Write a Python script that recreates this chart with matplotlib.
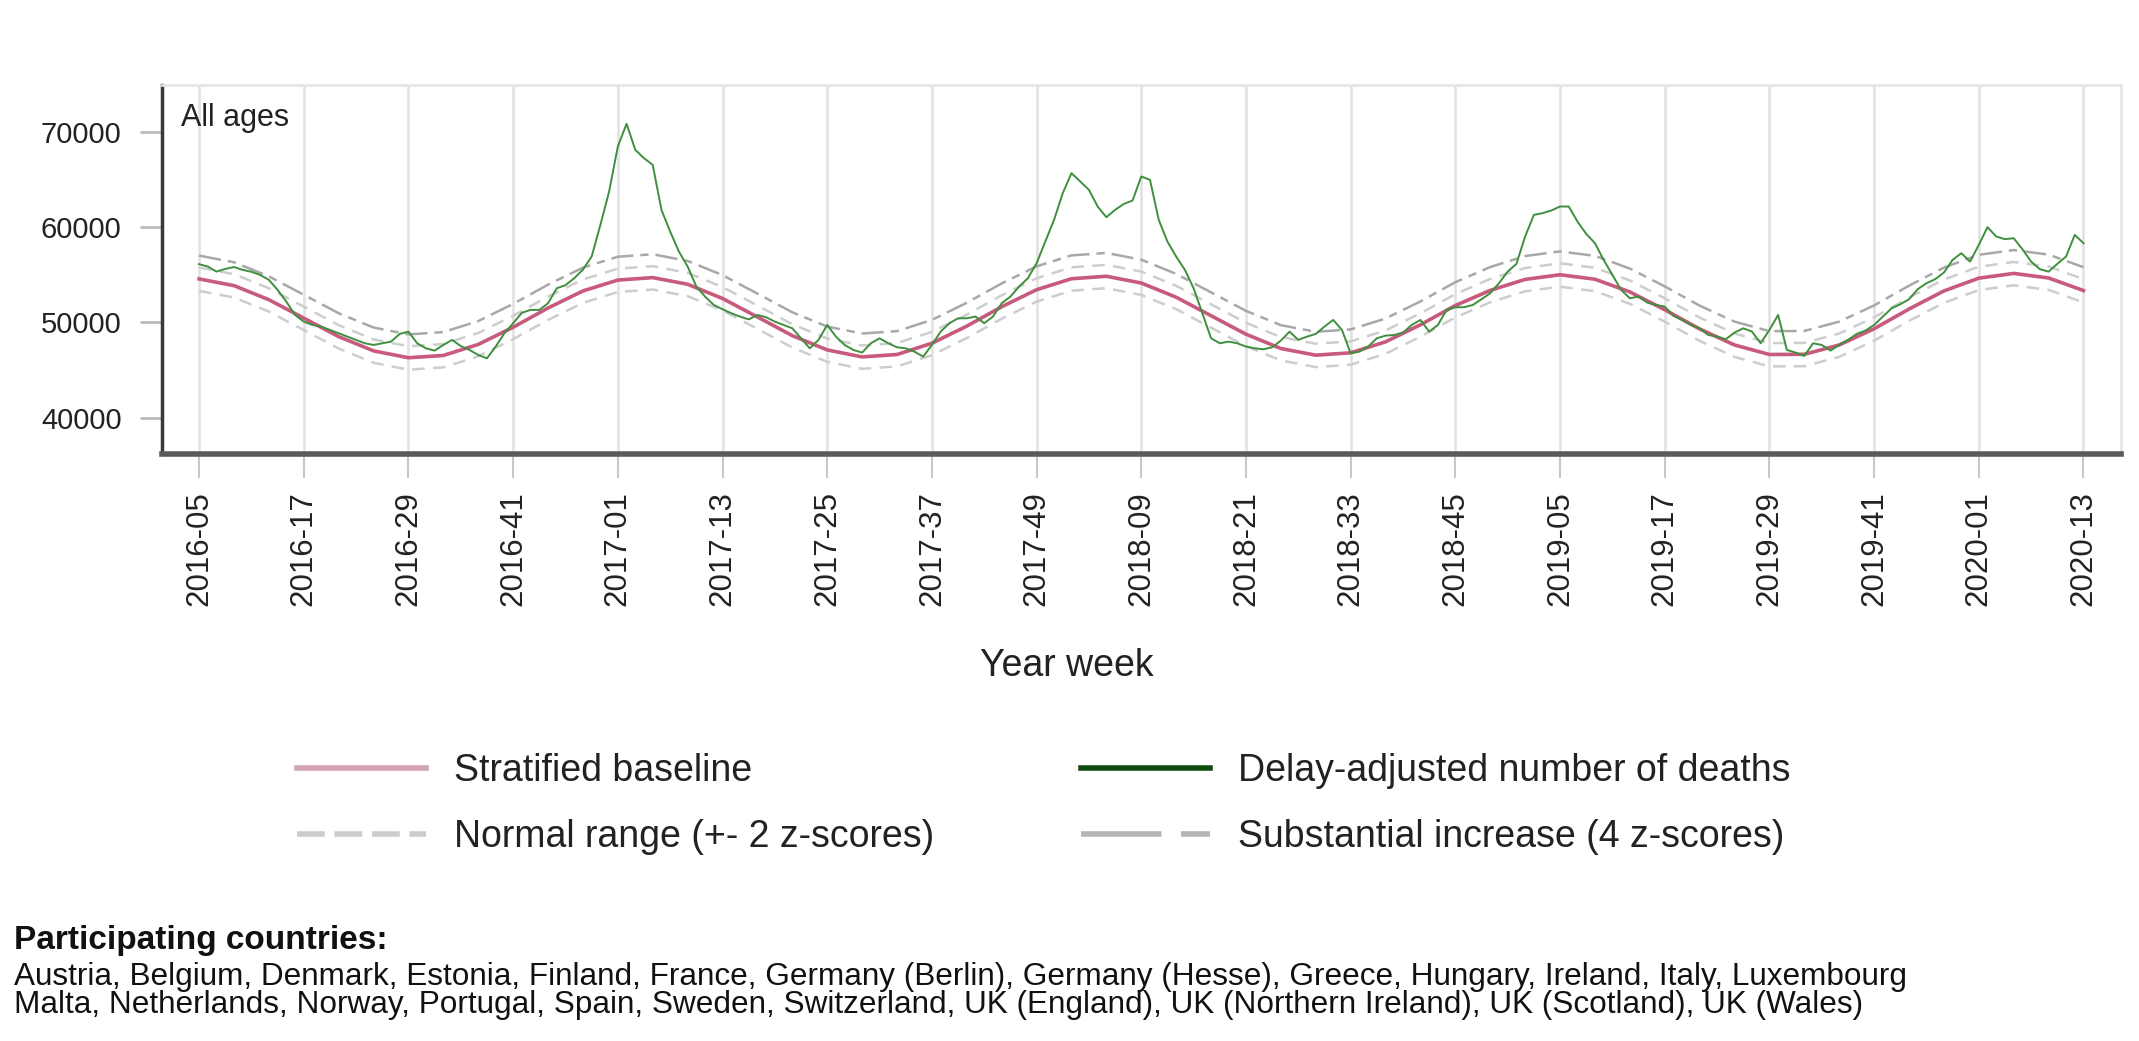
import numpy as np
import matplotlib
matplotlib.use("Agg")
import matplotlib.pyplot as plt
from matplotlib.lines import Line2D

plt.rcParams['font.family'] = ['Liberation Sans', 'DejaVu Sans']
plt.rcParams['lines.scale_dashes'] = False

# ---- data ----
# x tick labels, one every 12 weeks starting 2016-05
week_labels = ["2016-05", "2016-17", "2016-29", "2016-41", "2017-01", "2017-13",
               "2017-25", "2017-37", "2017-49", "2018-09", "2018-21", "2018-33",
               "2018-45", "2019-05", "2019-17", "2019-29", "2019-41", "2020-01",
               "2020-13"]

# weekly delay-adjusted deaths, 2016-05 .. 2020-13
deaths = [
    56100, 55850, 55320, 55600, 55800, 55500, 55300, 54970, 54450, 53400,
    52170, 50770, 50070, 49720, 49550, 49200, 48850, 48500, 48150, 47800,
    47620, 47800, 47970, 48780, 49020, 47800, 47270, 47030, 47620, 48150,
    47500, 47100, 46570, 46220, 47450, 48850, 49900, 51000, 51300, 51300,
    52000, 53570, 53900, 54620, 55530, 56900, 60220, 63720, 68450, 70830,
    68100, 67220, 66520, 61800, 59520, 57420, 55850, 53750, 52700, 51820,
    51370, 50950, 50600, 50300, 50770, 50530, 50070, 49720, 49370, 48320,
    47270, 48150, 49720, 48500, 47620, 47100, 46820, 47800, 48320, 47800,
    47380, 47270, 46920, 46400, 47620, 49020, 49900, 50420, 50420, 50600,
    49900, 50600, 52000, 52700, 53750, 54620, 56200, 58470, 60750, 63550,
    65650, 64770, 63900, 62150, 61030, 61800, 62420, 62780, 65300, 64950,
    60750, 58470, 56900, 55500, 53570, 50950, 48320, 47800, 47970, 47800,
    47450, 47270, 47170, 47380, 48080, 49020, 48150, 48500, 48780, 49550,
    50250, 49200, 46750, 46920, 47450, 48320, 48600, 48670, 48920, 49720,
    50250, 49020, 49720, 51300, 51580, 51580, 51820, 52420, 53050, 54100,
    55320, 56130, 59000, 61270, 61450, 61730, 62150, 62150, 60570, 59280,
    58300, 56550, 54970, 53400, 52520, 52700, 52070, 51820, 51650, 50670,
    50250, 49720, 49370, 48670, 48500, 48220, 48920, 49370, 49020, 47800,
    49200, 50770, 47100, 46820, 46470, 47800, 47620, 47030, 47620, 48150,
    48780, 49130, 49720, 50600, 51470, 51890, 52420, 53470, 54100, 54520,
    55220, 56550, 57250, 56370, 58120, 59980, 59000, 58720, 58820, 57670,
    56370, 55570, 55320, 56130, 56900, 59170, 58300,
]

# baseline and bands, sampled every 4 weeks
baseline = [
    54550, 53850, 52370, 50440, 48500, 47000, 46280, 46520, 47680, 49480, 51500, 53290, 54430,
    54690, 53990, 52500, 50560, 48600, 47100, 46370, 46620, 47800, 49600, 51630, 53420, 54570,
    54830, 54120, 52630, 50690, 48750, 47250, 46550, 46800, 47950, 49740, 51760, 53350, 54500,
    54990, 54520, 53190, 51320, 49300, 47620, 46620, 46640, 47620, 49320, 51390, 53290, 54630,
    55130, 54650, 53330,
]
normal_upper = [
    55750, 55050, 53570, 51640, 49700, 48200, 47480, 47720, 48880, 50680, 52700, 54490, 55630,
    55890, 55190, 53700, 51760, 49800, 48300, 47570, 47820, 49000, 50800, 52830, 54620, 55770,
    56030, 55320, 53830, 51890, 49950, 48450, 47750, 48000, 49150, 50940, 52960, 54550, 55700,
    56190, 55720, 54390, 52520, 50500, 48820, 47820, 47840, 48820, 50520, 52590, 54490, 55830,
    56330, 55850, 54530,
]
normal_lower = [
    53300, 52600, 51120, 49190, 47250, 45750, 45030, 45270, 46430, 48230, 50250, 52040, 53180,
    53440, 52740, 51250, 49310, 47350, 45850, 45120, 45370, 46550, 48350, 50380, 52170, 53320,
    53580, 52870, 51380, 49440, 47500, 46000, 45300, 45550, 46700, 48490, 50510, 52100, 53250,
    53740, 53270, 51940, 50070, 48050, 46370, 45370, 45390, 46370, 48070, 50140, 52040, 53380,
    53880, 53400, 52080,
]
substantial = [
    57000, 56300, 54820, 52890, 50950, 49450, 48730, 48970, 50130, 51930, 53950, 55740, 56880,
    57140, 56440, 54950, 53010, 51050, 49550, 48820, 49070, 50250, 52050, 54080, 55870, 57020,
    57280, 56570, 55080, 53140, 51200, 49700, 49000, 49250, 50400, 52190, 54210, 55800, 56950,
    57440, 56970, 55640, 53770, 51750, 50070, 49070, 49090, 50070, 51770, 53840, 55740, 57080,
    57580, 57100, 55780,
]

countries_1 = ("Austria, Belgium, Denmark, Estonia, Finland, France, Germany (Berlin), "
               "Germany (Hesse), Greece, Hungary, Ireland, Italy, Luxembourg")
countries_2 = ("Malta, Netherlands, Norway, Portugal, Spain, Sweden, Switzerland, "
               "UK (England), UK (Northern Ireland), UK (Scotland), UK (Wales)")

# ---- figure ----
W, H = 2139, 1041
fig = plt.figure(figsize=(W / 100, H / 100), dpi=100)
ax = fig.add_axes([162 / W, 1 - 454 / H, (2121 - 162) / W, (454 - 85) / H])

weeks = np.arange(len(deaths))
band_weeks = np.arange(0, len(deaths), 4)
tick_pos = np.arange(0, len(deaths), 12)

ax.plot(band_weeks, substantial, color='#a8a8a8', lw=1.8, dashes=(16, 5, 6, 5), zorder=2)
ax.plot(band_weeks, normal_upper, color='#cdcdcd', lw=1.8, dashes=(9, 6), zorder=2)
ax.plot(band_weeks, normal_lower, color='#cdcdcd', lw=1.8, dashes=(9, 6), zorder=2)
ax.plot(band_weeks, baseline, color='#c85a7c', lw=2.6, zorder=3)
ax.plot(weeks, deaths, color='#3f8f3f', lw=1.4, zorder=4)

ax.set_xlim(-4.25, 220.3)
ax.set_ylim(36180, 74900)
ax.set_xticks(tick_pos)
ax.set_xticklabels(week_labels, rotation=90)
ax.set_yticks([40000, 50000, 60000, 70000])

ax.grid(axis='x', color='#e3e3e3', lw=2, zorder=0)
ax.set_axisbelow(True)
ax.tick_params(axis='x', length=17, width=1.5, color='#c8c8c8', pad=10,
               labelsize=22.5, labelcolor='#222222')
ax.tick_params(axis='y', length=16, width=2, color='#bbbbbb', pad=13,
               labelsize=21, labelcolor='#222222')

ax.spines['left'].set_color('#3a3a3a')
ax.spines['left'].set_linewidth(2.5)
ax.spines['bottom'].set_color('#5a5a5a')
ax.spines['bottom'].set_linewidth(4)
for s in ('top', 'right'):
    ax.spines[s].set_color('#e6e6e6')
    ax.spines[s].set_linewidth(2)

ax.text(0.0097, 0.952, "All ages", transform=ax.transAxes, fontsize=22,
        va='top', ha='left', color='#222222')

fig.text(1067 / W, 1 - 666 / H, "Year week", fontsize=27, ha='center',
         va='center', color='#222222')

# legend
handles = [
    Line2D([], [], color='#d4a3b3', lw=4),
    Line2D([], [], color='#cccccc', lw=4, dashes=(20, 7)),
    Line2D([], [], color='#0f4a0f', lw=4),
    Line2D([], [], color='#b5b5b5', lw=4, dashes=(58, 14, 21, 50)),
]
labels = ["Stratified baseline", "Normal range (+- 2 z-scores)",
          "Delay-adjusted number of deaths", "Substantial increase (4 z-scores)"]
fig.legend(handles, labels, ncol=2, loc='center left',
           bbox_to_anchor=(297 / W, 1 - 804 / H), frameon=False,
           fontsize=27, handlelength=3.44, handletextpad=0.75,
           columnspacing=3.9, labelspacing=0.80, borderpad=0, borderaxespad=0,
           labelcolor='#222222')

fig.text(14 / W, 1 - 940 / H, "Participating countries:", fontsize=24,
         fontweight='bold', va='center', ha='left', color='#111111')
fig.text(14 / W, 1 - 977 / H, countries_1, fontsize=22.7, va='center',
         ha='left', color='#111111')
fig.text(14 / W, 1 - 1005 / H, countries_2, fontsize=22.7, va='center',
         ha='left', color='#111111')

fig.savefig("out.png", dpi=100)
